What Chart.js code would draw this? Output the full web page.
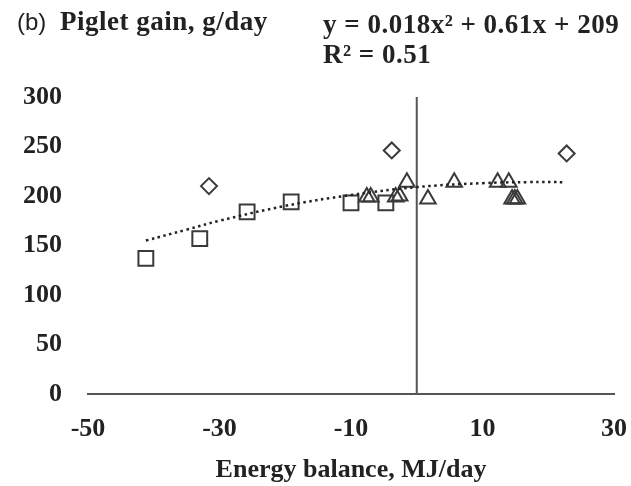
<!DOCTYPE html>
<html>
<head>
<meta charset="utf-8">
<script src="https://cdn.jsdelivr.net/npm/chart.js@4/dist/chart.umd.min.js"></script>
<style>
  html, body { margin: 0; padding: 0; background: #fff; }
  #wrap { width: 631px; height: 486px; }
</style>
</head>
<body>
<div id="wrap"><canvas id="c"></canvas></div>
<script>
// energy balance (MJ/day) vs piglet gain (g/day)
const squareX = [-41.2, -33.0, -25.8, -19.1, -10.0, -4.7];
const squareY = [137, 157, 184, 194, 193, 193];
const diamondX = [-31.6, -3.8, 22.8];
const diamondY = [210, 246, 243];
const triangleX = [-7.6, -7.0, -3.2, -2.6, -1.5, 1.7, 5.7, 12.3, 14.0, 14.5, 14.9, 15.3];
const triangleY = [199, 199, 199, 200, 214, 197, 214, 214, 214, 197, 197, 197];
// trend line points, as drawn
const trendX = [-41.2, -35, -30, -20, -10, 0, 10, 17, 22.7];
const trendY = [155, 166, 175, 190, 201, 209, 213, 214, 214];
const xTicks = [-50, -30, -10, 10, 30];
const yTicks = [0, 50, 100, 150, 200, 250, 300];

const pts = (xs, ys) => xs.map((x, i) => ({ x, y: ys[i] }));
const serif = "'Liberation Serif', 'DejaVu Serif', serif";
const ink = "#3a3a3a";

const headerText = {
  id: "headerText",
  afterDraw(chart) {
    const ctx = chart.ctx;
    ctx.save();
    ctx.fillStyle = "#222";
    ctx.textBaseline = "alphabetic";
    ctx.textAlign = "left";
    ctx.font = "24px 'Liberation Sans', Arial, sans-serif";
    ctx.fillText("(b)", 17, 30);
    ctx.letterSpacing = "0.5px";
    ctx.font = "bold 27px " + serif;
    ctx.fillText("Piglet gain, g/day", 60, 30);
    ctx.fillText("y = 0.018x\u00B2 + 0.61x + 209", 323, 33);
    ctx.fillText("R\u00B2 = 0.51", 323, 63);
    ctx.restore();
  }
};

new Chart(document.getElementById("c"), {
  type: "scatter",
  data: {
    datasets: [
      {
        data: pts(trendX, trendY),
        showLine: true,
        borderColor: "#222",
        borderWidth: 2.5,
        borderDash: [2.5, 3.5],
        pointRadius: 0,
        tension: 0.4
      },
      {
        data: [{ x: 0, y: 0 }, { x: 0, y: 300 }],
        showLine: true,
        borderColor: "#555",
        borderWidth: 2,
        pointRadius: 0
      },
      {
        data: pts(squareX, squareY),
        pointStyle: "rect",
        pointRadius: 10.5,
        borderColor: ink,
        borderWidth: 2,
        backgroundColor: "rgba(0,0,0,0)"
      },
      {
        data: pts(diamondX, diamondY),
        pointStyle: "rectRot",
        pointRadius: 8,
        borderColor: ink,
        borderWidth: 2,
        backgroundColor: "rgba(0,0,0,0)"
      },
      {
        data: pts(triangleX, triangleY),
        pointStyle: "triangle",
        pointRadius: 9,
        borderColor: ink,
        borderWidth: 2,
        backgroundColor: "rgba(0,0,0,0)"
      }
    ]
  },
  options: {
    responsive: true,
    maintainAspectRatio: false,
    animation: false,
    layout: { padding: { top: 97, right: 17, left: 0, bottom: 0 } },
    plugins: { legend: { display: false }, tooltip: { enabled: false } },
    scales: {
      x: {
        type: "linear",
        min: -50,
        max: 30,
        afterBuildTicks: (s) => { s.ticks = xTicks.map((v) => ({ value: v })); },
        afterFit: (s) => { s.height = 92; s.paddingRight = 0; s.paddingLeft = 0; },
        grid: { display: false, drawTicks: false },
        border: { display: true, color: "#555", width: 2 },
        ticks: { color: "#222", padding: 20, font: { family: serif, size: 26, weight: "bold" } },
        title: {
          display: true,
          text: "Energy balance, MJ/day",
          color: "#222",
          padding: { top: 4, bottom: 0 },
          font: { family: serif, size: 26, weight: "bold" }
        }
      },
      y: {
        min: 0,
        max: 300,
        afterBuildTicks: (s) => { s.ticks = yTicks.map((v) => ({ value: v })); },
        afterFit: (s) => { s.width = 88; },
        grid: { display: false, drawTicks: false },
        border: { display: false },
        ticks: { color: "#222", padding: 26, font: { family: serif, size: 26, weight: "bold" } }
      }
    }
  },
  plugins: [headerText]
});
</script>
</body>
</html>
